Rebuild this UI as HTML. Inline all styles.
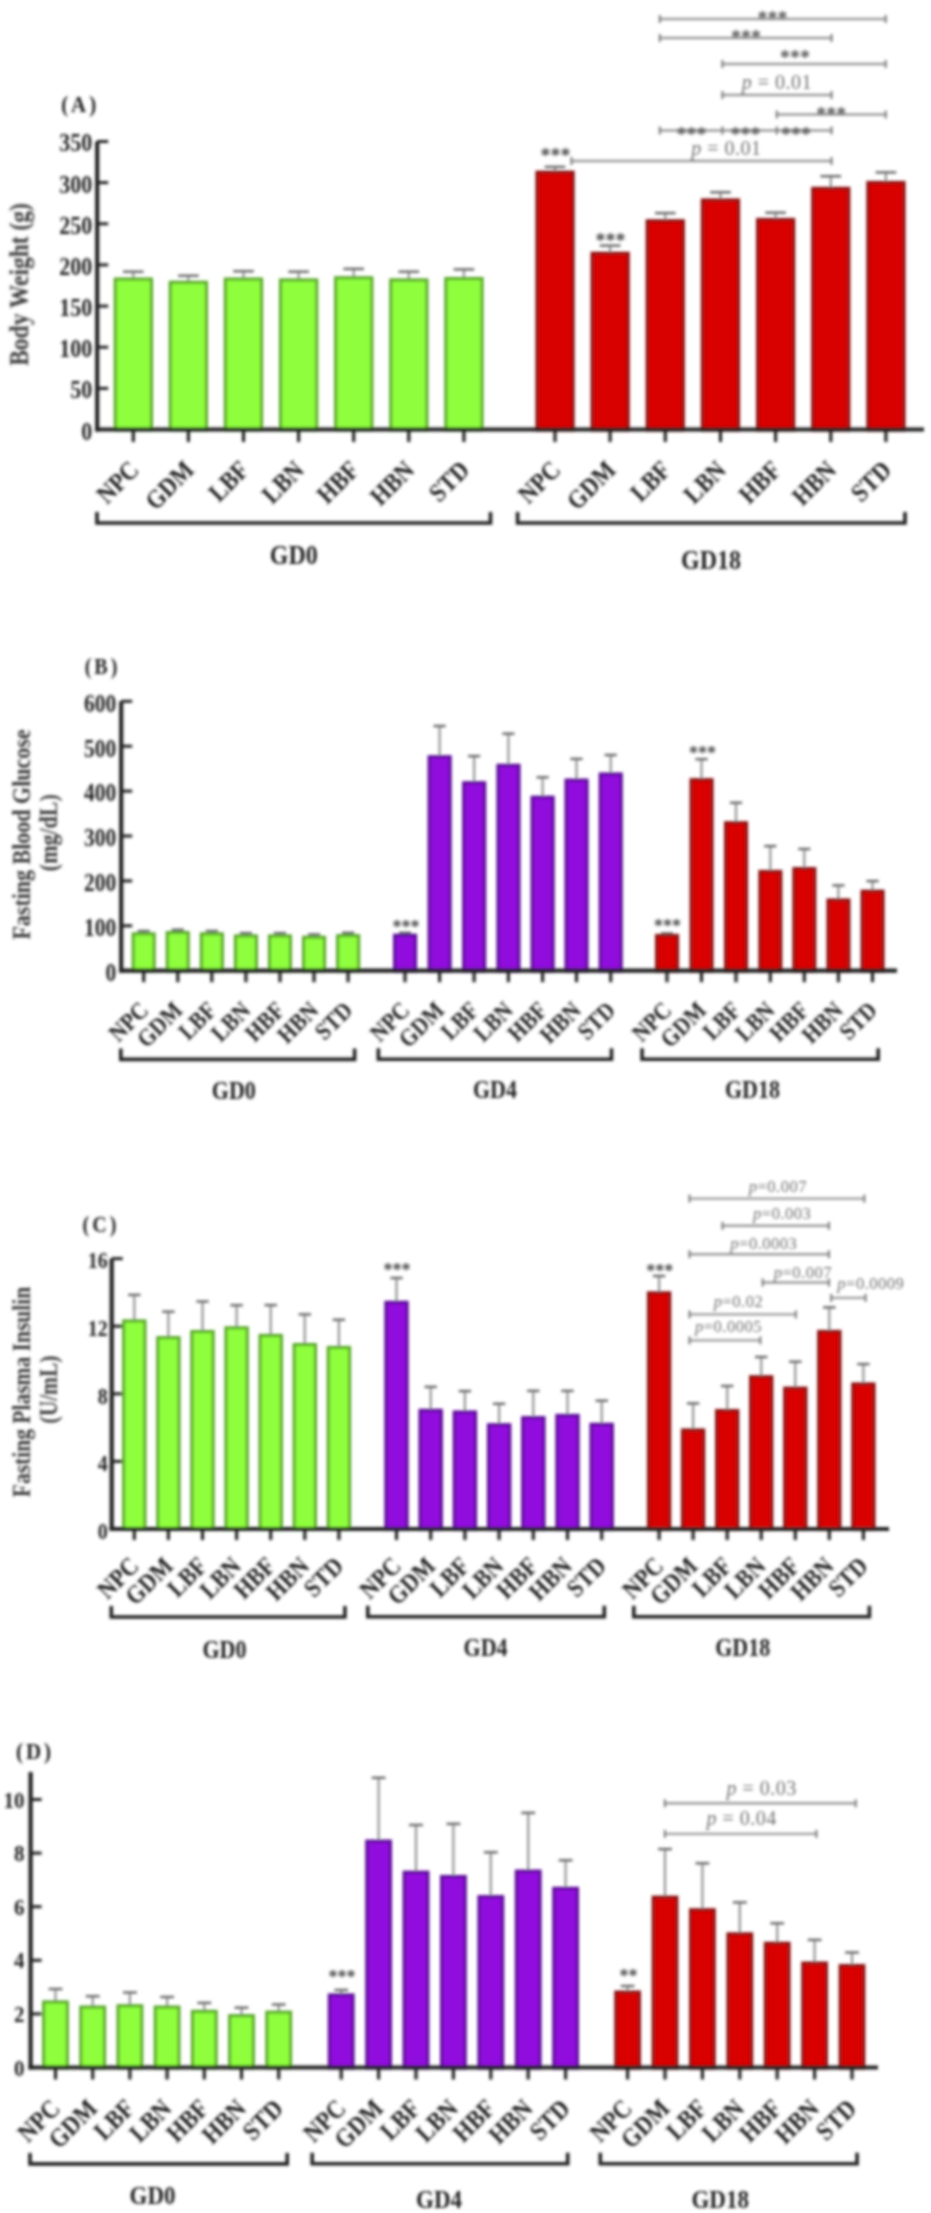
<!DOCTYPE html>
<html><head><meta charset="utf-8"><title>Figure</title>
<style>
html,body{margin:0;padding:0;background:#fff;}
body{width:931px;height:2213px;overflow:hidden;}
svg{display:block;font-family:'Liberation Serif', 'Times New Roman', serif;}
</style></head>
<body>
<svg width="931" height="2213" viewBox="0 0 931 2213">
<defs><filter id="bl" x="-2%" y="-2%" width="104%" height="104%"><feGaussianBlur stdDeviation="1.6"/></filter></defs>
<rect width="931" height="2213" fill="#fff"/>
<g filter="url(#bl)">
<text font-size="21" font-weight="bold" text-anchor="middle" fill="#222222" letter-spacing="3" transform="translate(80.2 111.8) scale(1 1.13)">(A)</text>
<line x1="97.2" y1="429.5" x2="108.2" y2="429.5" stroke="#222222" stroke-width="3.0"/>
<text font-size="22" font-weight="bold" text-anchor="end" fill="#222222" transform="translate(92.2 439.5) scale(1 1.13)">0</text>
<line x1="97.2" y1="388.4" x2="108.2" y2="388.4" stroke="#222222" stroke-width="3.0"/>
<text font-size="22" font-weight="bold" text-anchor="end" fill="#222222" transform="translate(92.2 398.3) scale(1 1.13)">50</text>
<line x1="97.2" y1="347.2" x2="108.2" y2="347.2" stroke="#222222" stroke-width="3.0"/>
<text font-size="22" font-weight="bold" text-anchor="end" fill="#222222" transform="translate(92.2 357.2) scale(1 1.13)">100</text>
<line x1="97.2" y1="306.1" x2="108.2" y2="306.1" stroke="#222222" stroke-width="3.0"/>
<text font-size="22" font-weight="bold" text-anchor="end" fill="#222222" transform="translate(92.2 316.0) scale(1 1.13)">150</text>
<line x1="97.2" y1="264.9" x2="108.2" y2="264.9" stroke="#222222" stroke-width="3.0"/>
<text font-size="22" font-weight="bold" text-anchor="end" fill="#222222" transform="translate(92.2 274.9) scale(1 1.13)">200</text>
<line x1="97.2" y1="223.8" x2="108.2" y2="223.8" stroke="#222222" stroke-width="3.0"/>
<text font-size="22" font-weight="bold" text-anchor="end" fill="#222222" transform="translate(92.2 233.7) scale(1 1.13)">250</text>
<line x1="97.2" y1="182.6" x2="108.2" y2="182.6" stroke="#222222" stroke-width="3.0"/>
<text font-size="22" font-weight="bold" text-anchor="end" fill="#222222" transform="translate(92.2 192.6) scale(1 1.13)">300</text>
<line x1="97.2" y1="141.5" x2="108.2" y2="141.5" stroke="#222222" stroke-width="3.0"/>
<text font-size="22" font-weight="bold" text-anchor="end" fill="#222222" transform="translate(92.2 151.4) scale(1 1.13)">350</text>
<text font-size="23.5" font-weight="bold" text-anchor="middle" fill="#383838" transform="translate(28.0 284.5) rotate(-90) scale(1 1.13)">Body Weight (g)</text>
<line x1="133.3" y1="278.4" x2="133.3" y2="271.7" stroke="#929292" stroke-width="2.2"/>
<line x1="123.0" y1="271.7" x2="143.6" y2="271.7" stroke="#666" stroke-width="2.4"/>
<rect x="115.2" y="279.0" width="36.3" height="151.1" fill="#8efe3c" stroke="#5aa82a" stroke-width="3"/>
<text font-size="23" font-weight="bold" text-anchor="end" fill="#222222" transform="translate(140.3 471.5) rotate(-45) scale(1 1.13)">NPC</text>
<line x1="188.4" y1="281.6" x2="188.4" y2="275.7" stroke="#929292" stroke-width="2.2"/>
<line x1="178.1" y1="275.7" x2="198.7" y2="275.7" stroke="#666" stroke-width="2.4"/>
<rect x="170.2" y="282.2" width="36.3" height="147.9" fill="#8efe3c" stroke="#5aa82a" stroke-width="3"/>
<text font-size="23" font-weight="bold" text-anchor="end" fill="#222222" transform="translate(195.4 471.5) rotate(-45) scale(1 1.13)">GDM</text>
<line x1="243.5" y1="278.4" x2="243.5" y2="271.2" stroke="#929292" stroke-width="2.2"/>
<line x1="233.2" y1="271.2" x2="253.8" y2="271.2" stroke="#666" stroke-width="2.4"/>
<rect x="225.3" y="279.0" width="36.3" height="151.1" fill="#8efe3c" stroke="#5aa82a" stroke-width="3"/>
<text font-size="23" font-weight="bold" text-anchor="end" fill="#222222" transform="translate(250.5 471.5) rotate(-45) scale(1 1.13)">LBF</text>
<line x1="298.6" y1="279.3" x2="298.6" y2="271.7" stroke="#929292" stroke-width="2.2"/>
<line x1="288.3" y1="271.7" x2="308.9" y2="271.7" stroke="#666" stroke-width="2.4"/>
<rect x="280.5" y="279.9" width="36.3" height="150.2" fill="#8efe3c" stroke="#5aa82a" stroke-width="3"/>
<text font-size="23" font-weight="bold" text-anchor="end" fill="#222222" transform="translate(305.6 471.5) rotate(-45) scale(1 1.13)">LBN</text>
<line x1="353.7" y1="277.1" x2="353.7" y2="268.9" stroke="#929292" stroke-width="2.2"/>
<line x1="343.4" y1="268.9" x2="364.0" y2="268.9" stroke="#666" stroke-width="2.4"/>
<rect x="335.6" y="277.7" width="36.3" height="152.4" fill="#8efe3c" stroke="#5aa82a" stroke-width="3"/>
<text font-size="23" font-weight="bold" text-anchor="end" fill="#222222" transform="translate(360.7 471.5) rotate(-45) scale(1 1.13)">HBF</text>
<line x1="408.8" y1="279.3" x2="408.8" y2="271.7" stroke="#929292" stroke-width="2.2"/>
<line x1="398.5" y1="271.7" x2="419.1" y2="271.7" stroke="#666" stroke-width="2.4"/>
<rect x="390.7" y="279.9" width="36.3" height="150.2" fill="#8efe3c" stroke="#5aa82a" stroke-width="3"/>
<text font-size="23" font-weight="bold" text-anchor="end" fill="#222222" transform="translate(415.8 471.5) rotate(-45) scale(1 1.13)">HBN</text>
<line x1="463.9" y1="277.9" x2="463.9" y2="269.4" stroke="#929292" stroke-width="2.2"/>
<line x1="453.6" y1="269.4" x2="474.2" y2="269.4" stroke="#666" stroke-width="2.4"/>
<rect x="445.8" y="278.5" width="36.3" height="151.6" fill="#8efe3c" stroke="#5aa82a" stroke-width="3"/>
<text font-size="23" font-weight="bold" text-anchor="end" fill="#222222" transform="translate(470.9 471.5) rotate(-45) scale(1 1.13)">STD</text>
<path d="M97.0 512.0 V523.0 H490.5 V512.0" fill="none" stroke="#222222" stroke-width="3.6"/>
<text font-size="24" font-weight="bold" text-anchor="middle" fill="#222222" transform="translate(293.8 564.2) scale(1 1.13)">GD0</text>
<line x1="555.0" y1="171.5" x2="555.0" y2="166.9" stroke="#929292" stroke-width="2.2"/>
<line x1="544.7" y1="166.9" x2="565.3" y2="166.9" stroke="#666" stroke-width="2.4"/>
<rect x="536.9" y="172.1" width="36.3" height="258.0" fill="#d90000" stroke="#8c1414" stroke-width="3"/>
<text font-size="23" font-weight="bold" text-anchor="end" fill="#222222" transform="translate(562.0 471.5) rotate(-45) scale(1 1.13)">NPC</text>
<line x1="610.1" y1="252.6" x2="610.1" y2="245.6" stroke="#929292" stroke-width="2.2"/>
<line x1="599.8" y1="245.6" x2="620.5" y2="245.6" stroke="#666" stroke-width="2.4"/>
<rect x="592.0" y="253.2" width="36.3" height="176.9" fill="#d90000" stroke="#8c1414" stroke-width="3"/>
<text font-size="23" font-weight="bold" text-anchor="end" fill="#222222" transform="translate(617.1 471.5) rotate(-45) scale(1 1.13)">GDM</text>
<line x1="665.3" y1="220.1" x2="665.3" y2="213.1" stroke="#929292" stroke-width="2.2"/>
<line x1="655.0" y1="213.1" x2="675.6" y2="213.1" stroke="#666" stroke-width="2.4"/>
<rect x="647.1" y="220.7" width="36.3" height="209.4" fill="#d90000" stroke="#8c1414" stroke-width="3"/>
<text font-size="23" font-weight="bold" text-anchor="end" fill="#222222" transform="translate(672.3 471.5) rotate(-45) scale(1 1.13)">LBF</text>
<line x1="720.5" y1="199.3" x2="720.5" y2="192.3" stroke="#929292" stroke-width="2.2"/>
<line x1="710.1" y1="192.3" x2="730.8" y2="192.3" stroke="#666" stroke-width="2.4"/>
<rect x="702.3" y="199.9" width="36.3" height="230.2" fill="#d90000" stroke="#8c1414" stroke-width="3"/>
<text font-size="23" font-weight="bold" text-anchor="end" fill="#222222" transform="translate(727.5 471.5) rotate(-45) scale(1 1.13)">LBN</text>
<line x1="775.6" y1="218.8" x2="775.6" y2="212.7" stroke="#929292" stroke-width="2.2"/>
<line x1="765.3" y1="212.7" x2="785.9" y2="212.7" stroke="#666" stroke-width="2.4"/>
<rect x="757.5" y="219.4" width="36.3" height="210.7" fill="#d90000" stroke="#8c1414" stroke-width="3"/>
<text font-size="23" font-weight="bold" text-anchor="end" fill="#222222" transform="translate(782.6 471.5) rotate(-45) scale(1 1.13)">HBF</text>
<line x1="830.8" y1="187.7" x2="830.8" y2="176.2" stroke="#929292" stroke-width="2.2"/>
<line x1="820.4" y1="176.2" x2="841.1" y2="176.2" stroke="#666" stroke-width="2.4"/>
<rect x="812.6" y="188.3" width="36.3" height="241.8" fill="#d90000" stroke="#8c1414" stroke-width="3"/>
<text font-size="23" font-weight="bold" text-anchor="end" fill="#222222" transform="translate(837.8 471.5) rotate(-45) scale(1 1.13)">HBN</text>
<line x1="885.9" y1="181.8" x2="885.9" y2="172.4" stroke="#929292" stroke-width="2.2"/>
<line x1="875.6" y1="172.4" x2="896.2" y2="172.4" stroke="#666" stroke-width="2.4"/>
<rect x="867.8" y="182.4" width="36.3" height="247.7" fill="#d90000" stroke="#8c1414" stroke-width="3"/>
<text font-size="23" font-weight="bold" text-anchor="end" fill="#222222" transform="translate(892.9 471.5) rotate(-45) scale(1 1.13)">STD</text>
<path d="M517.6 512.0 V523.0 H905.0 V512.0" fill="none" stroke="#222222" stroke-width="3.6"/>
<text font-size="24" font-weight="bold" text-anchor="middle" fill="#222222" transform="translate(711.0 569.0) scale(1 1.13)">GD18</text>
<line x1="97.2" y1="141.5" x2="97.2" y2="431.6" stroke="#222222" stroke-width="4.2"/>
<line x1="95.1" y1="429.5" x2="924.0" y2="429.5" stroke="#222222" stroke-width="4.2"/>
<line x1="133.3" y1="429.5" x2="133.3" y2="442.0" stroke="#222222" stroke-width="3.2"/>
<line x1="188.4" y1="429.5" x2="188.4" y2="442.0" stroke="#222222" stroke-width="3.2"/>
<line x1="243.5" y1="429.5" x2="243.5" y2="442.0" stroke="#222222" stroke-width="3.2"/>
<line x1="298.6" y1="429.5" x2="298.6" y2="442.0" stroke="#222222" stroke-width="3.2"/>
<line x1="353.7" y1="429.5" x2="353.7" y2="442.0" stroke="#222222" stroke-width="3.2"/>
<line x1="408.8" y1="429.5" x2="408.8" y2="442.0" stroke="#222222" stroke-width="3.2"/>
<line x1="463.9" y1="429.5" x2="463.9" y2="442.0" stroke="#222222" stroke-width="3.2"/>
<line x1="555.0" y1="429.5" x2="555.0" y2="442.0" stroke="#222222" stroke-width="3.2"/>
<line x1="610.1" y1="429.5" x2="610.1" y2="442.0" stroke="#222222" stroke-width="3.2"/>
<line x1="665.3" y1="429.5" x2="665.3" y2="442.0" stroke="#222222" stroke-width="3.2"/>
<line x1="720.5" y1="429.5" x2="720.5" y2="442.0" stroke="#222222" stroke-width="3.2"/>
<line x1="775.6" y1="429.5" x2="775.6" y2="442.0" stroke="#222222" stroke-width="3.2"/>
<line x1="830.8" y1="429.5" x2="830.8" y2="442.0" stroke="#222222" stroke-width="3.2"/>
<line x1="885.9" y1="429.5" x2="885.9" y2="442.0" stroke="#222222" stroke-width="3.2"/>
<text x="555.5" y="161.7" font-size="20" font-weight="bold" text-anchor="middle" fill="#444">***</text>
<text x="610.5" y="246.5" font-size="20" font-weight="bold" text-anchor="middle" fill="#444">***</text>
<line x1="659.8" y1="19.0" x2="885.7" y2="19.0" stroke="#9a9a9a" stroke-width="2.4"/>
<line x1="659.8" y1="15.0" x2="659.8" y2="23.0" stroke="#777" stroke-width="2"/>
<line x1="885.7" y1="15.0" x2="885.7" y2="23.0" stroke="#777" stroke-width="2"/>
<text x="772.6" y="24.5" font-size="20" font-weight="bold" text-anchor="middle" fill="#555">***</text>
<line x1="659.8" y1="38.0" x2="831.5" y2="38.0" stroke="#9a9a9a" stroke-width="2.4"/>
<line x1="659.8" y1="34.0" x2="659.8" y2="42.0" stroke="#777" stroke-width="2"/>
<line x1="831.5" y1="34.0" x2="831.5" y2="42.0" stroke="#777" stroke-width="2"/>
<text x="746.1" y="44.0" font-size="20" font-weight="bold" text-anchor="middle" fill="#555">***</text>
<line x1="722.4" y1="64.0" x2="885.7" y2="64.0" stroke="#9a9a9a" stroke-width="2.4"/>
<line x1="722.4" y1="60.0" x2="722.4" y2="68.0" stroke="#777" stroke-width="2"/>
<line x1="885.7" y1="60.0" x2="885.7" y2="68.0" stroke="#777" stroke-width="2"/>
<text x="795.0" y="64.1" font-size="20" font-weight="bold" text-anchor="middle" fill="#555">***</text>
<line x1="722.4" y1="95.0" x2="831.5" y2="95.0" stroke="#9a9a9a" stroke-width="2.4"/>
<line x1="722.4" y1="91.0" x2="722.4" y2="99.0" stroke="#777" stroke-width="2"/>
<line x1="831.5" y1="91.0" x2="831.5" y2="99.0" stroke="#777" stroke-width="2"/>
<text x="776.8" y="89.0" font-size="20" text-anchor="middle" fill="#707070" letter-spacing="0.5"><tspan font-style="italic">p</tspan> = 0.01</text>
<line x1="776.8" y1="114.5" x2="885.7" y2="114.5" stroke="#9a9a9a" stroke-width="2.4"/>
<line x1="776.8" y1="110.5" x2="776.8" y2="118.5" stroke="#777" stroke-width="2"/>
<line x1="885.7" y1="110.5" x2="885.7" y2="118.5" stroke="#777" stroke-width="2"/>
<text x="831.3" y="120.8" font-size="20" font-weight="bold" text-anchor="middle" fill="#555">***</text>
<line x1="659.8" y1="130.5" x2="831.5" y2="130.5" stroke="#9a9a9a" stroke-width="2.4"/>
<line x1="659.8" y1="126.5" x2="659.8" y2="134.5" stroke="#777" stroke-width="2"/>
<line x1="722.4" y1="126.5" x2="722.4" y2="134.5" stroke="#777" stroke-width="2"/>
<line x1="776.8" y1="126.5" x2="776.8" y2="134.5" stroke="#777" stroke-width="2"/>
<line x1="831.5" y1="126.5" x2="831.5" y2="134.5" stroke="#777" stroke-width="2"/>
<text x="691.5" y="140.5" font-size="20" font-weight="bold" text-anchor="middle" fill="#555">***</text>
<text x="745.5" y="140.5" font-size="20" font-weight="bold" text-anchor="middle" fill="#555">***</text>
<text x="796.0" y="140.5" font-size="20" font-weight="bold" text-anchor="middle" fill="#555">***</text>
<line x1="571.5" y1="161.0" x2="831.5" y2="161.0" stroke="#9a9a9a" stroke-width="2.4"/>
<line x1="571.5" y1="157.0" x2="571.5" y2="165.0" stroke="#777" stroke-width="2"/>
<line x1="831.5" y1="157.0" x2="831.5" y2="165.0" stroke="#777" stroke-width="2"/>
<text x="726.3" y="154.5" font-size="20" text-anchor="middle" fill="#707070" letter-spacing="0.5"><tspan font-style="italic">p</tspan> = 0.01</text>
<text font-size="20" font-weight="bold" text-anchor="middle" fill="#222222" letter-spacing="3" transform="translate(102.5 674.0) scale(1 1.13)">(B)</text>
<line x1="121.2" y1="970.7" x2="132.2" y2="970.7" stroke="#222222" stroke-width="3.0"/>
<text font-size="21.5" font-weight="bold" text-anchor="end" fill="#222222" transform="translate(116.2 981.0) scale(1 1.13)">0</text>
<line x1="121.2" y1="925.8" x2="132.2" y2="925.8" stroke="#222222" stroke-width="3.0"/>
<text font-size="21.5" font-weight="bold" text-anchor="end" fill="#222222" transform="translate(116.2 936.1) scale(1 1.13)">100</text>
<line x1="121.2" y1="880.9" x2="132.2" y2="880.9" stroke="#222222" stroke-width="3.0"/>
<text font-size="21.5" font-weight="bold" text-anchor="end" fill="#222222" transform="translate(116.2 891.2) scale(1 1.13)">200</text>
<line x1="121.2" y1="836.0" x2="132.2" y2="836.0" stroke="#222222" stroke-width="3.0"/>
<text font-size="21.5" font-weight="bold" text-anchor="end" fill="#222222" transform="translate(116.2 846.3) scale(1 1.13)">300</text>
<line x1="121.2" y1="791.1" x2="132.2" y2="791.1" stroke="#222222" stroke-width="3.0"/>
<text font-size="21.5" font-weight="bold" text-anchor="end" fill="#222222" transform="translate(116.2 801.4) scale(1 1.13)">400</text>
<line x1="121.2" y1="746.2" x2="132.2" y2="746.2" stroke="#222222" stroke-width="3.0"/>
<text font-size="21.5" font-weight="bold" text-anchor="end" fill="#222222" transform="translate(116.2 756.5) scale(1 1.13)">500</text>
<line x1="121.2" y1="701.3" x2="132.2" y2="701.3" stroke="#222222" stroke-width="3.0"/>
<text font-size="21.5" font-weight="bold" text-anchor="end" fill="#222222" transform="translate(116.2 711.6) scale(1 1.13)">600</text>
<text font-size="22" font-weight="bold" text-anchor="middle" fill="#383838" transform="translate(29.5 834.5) rotate(-90) scale(1 1.13)">Fasting Blood Glucose</text>
<text font-size="22" font-weight="bold" text-anchor="middle" fill="#383838" transform="translate(57.0 832.7) rotate(-90) scale(1 1.13)">(mg/dL)</text>
<line x1="143.7" y1="933.2" x2="143.7" y2="931.0" stroke="#929292" stroke-width="2.2"/>
<line x1="137.6" y1="931.0" x2="149.8" y2="931.0" stroke="#666" stroke-width="2.4"/>
<rect x="133.1" y="933.8" width="21.1" height="37.5" fill="#8efe3c" stroke="#5aa82a" stroke-width="3"/>
<text font-size="21.5" font-weight="bold" text-anchor="end" fill="#222222" transform="translate(149.7 1011.7) rotate(-45) scale(1 1.13)">NPC</text>
<line x1="177.8" y1="931.9" x2="177.8" y2="929.7" stroke="#929292" stroke-width="2.2"/>
<line x1="171.6" y1="929.7" x2="183.9" y2="929.7" stroke="#666" stroke-width="2.4"/>
<rect x="167.2" y="932.5" width="21.1" height="38.8" fill="#8efe3c" stroke="#5aa82a" stroke-width="3"/>
<text font-size="21.5" font-weight="bold" text-anchor="end" fill="#222222" transform="translate(183.8 1011.7) rotate(-45) scale(1 1.13)">GDM</text>
<line x1="211.8" y1="933.2" x2="211.8" y2="931.0" stroke="#929292" stroke-width="2.2"/>
<line x1="205.7" y1="931.0" x2="218.0" y2="931.0" stroke="#666" stroke-width="2.4"/>
<rect x="201.3" y="933.8" width="21.1" height="37.5" fill="#8efe3c" stroke="#5aa82a" stroke-width="3"/>
<text font-size="21.5" font-weight="bold" text-anchor="end" fill="#222222" transform="translate(217.8 1011.7) rotate(-45) scale(1 1.13)">LBF</text>
<line x1="245.9" y1="935.3" x2="245.9" y2="933.1" stroke="#929292" stroke-width="2.2"/>
<line x1="239.8" y1="933.1" x2="252.0" y2="933.1" stroke="#666" stroke-width="2.4"/>
<rect x="235.4" y="935.9" width="21.1" height="35.4" fill="#8efe3c" stroke="#5aa82a" stroke-width="3"/>
<text font-size="21.5" font-weight="bold" text-anchor="end" fill="#222222" transform="translate(251.9 1011.7) rotate(-45) scale(1 1.13)">LBN</text>
<line x1="280.0" y1="935.3" x2="280.0" y2="933.1" stroke="#929292" stroke-width="2.2"/>
<line x1="273.8" y1="933.1" x2="286.1" y2="933.1" stroke="#666" stroke-width="2.4"/>
<rect x="269.4" y="935.9" width="21.1" height="35.4" fill="#8efe3c" stroke="#5aa82a" stroke-width="3"/>
<text font-size="21.5" font-weight="bold" text-anchor="end" fill="#222222" transform="translate(286.0 1011.7) rotate(-45) scale(1 1.13)">HBF</text>
<line x1="314.0" y1="936.6" x2="314.0" y2="934.4" stroke="#929292" stroke-width="2.2"/>
<line x1="307.9" y1="934.4" x2="320.2" y2="934.4" stroke="#666" stroke-width="2.4"/>
<rect x="303.5" y="937.2" width="21.1" height="34.1" fill="#8efe3c" stroke="#5aa82a" stroke-width="3"/>
<text font-size="21.5" font-weight="bold" text-anchor="end" fill="#222222" transform="translate(320.0 1011.7) rotate(-45) scale(1 1.13)">HBN</text>
<line x1="348.1" y1="935.0" x2="348.1" y2="932.8" stroke="#929292" stroke-width="2.2"/>
<line x1="342.0" y1="932.8" x2="354.3" y2="932.8" stroke="#666" stroke-width="2.4"/>
<rect x="337.6" y="935.6" width="21.1" height="35.7" fill="#8efe3c" stroke="#5aa82a" stroke-width="3"/>
<text font-size="21.5" font-weight="bold" text-anchor="end" fill="#222222" transform="translate(354.1 1011.7) rotate(-45) scale(1 1.13)">STD</text>
<path d="M120.8 1048.4 V1059.4 H354.6 V1048.4" fill="none" stroke="#222222" stroke-width="3.6"/>
<text font-size="22" font-weight="bold" text-anchor="middle" fill="#222222" transform="translate(233.8 1099.1) scale(1 1.13)">GD0</text>
<line x1="405.0" y1="934.6" x2="405.0" y2="932.8" stroke="#929292" stroke-width="2.2"/>
<line x1="398.9" y1="932.8" x2="411.1" y2="932.8" stroke="#666" stroke-width="2.4"/>
<rect x="394.5" y="935.2" width="21.1" height="36.1" fill="#910fdd" stroke="#5c0c98" stroke-width="3"/>
<text font-size="21.5" font-weight="bold" text-anchor="end" fill="#222222" transform="translate(411.0 1011.7) rotate(-45) scale(1 1.13)">NPC</text>
<line x1="439.6" y1="756.1" x2="439.6" y2="726.0" stroke="#929292" stroke-width="2.2"/>
<line x1="433.5" y1="726.0" x2="445.7" y2="726.0" stroke="#666" stroke-width="2.4"/>
<rect x="429.1" y="756.7" width="21.1" height="214.6" fill="#910fdd" stroke="#5c0c98" stroke-width="3"/>
<text font-size="21.5" font-weight="bold" text-anchor="end" fill="#222222" transform="translate(445.6 1011.7) rotate(-45) scale(1 1.13)">GDM</text>
<line x1="474.1" y1="782.1" x2="474.1" y2="756.1" stroke="#929292" stroke-width="2.2"/>
<line x1="468.0" y1="756.1" x2="480.2" y2="756.1" stroke="#666" stroke-width="2.4"/>
<rect x="463.6" y="782.7" width="21.1" height="188.6" fill="#910fdd" stroke="#5c0c98" stroke-width="3"/>
<text font-size="21.5" font-weight="bold" text-anchor="end" fill="#222222" transform="translate(480.1 1011.7) rotate(-45) scale(1 1.13)">LBF</text>
<line x1="508.4" y1="764.7" x2="508.4" y2="733.7" stroke="#929292" stroke-width="2.2"/>
<line x1="502.3" y1="733.7" x2="514.5" y2="733.7" stroke="#666" stroke-width="2.4"/>
<rect x="497.9" y="765.3" width="21.1" height="206.0" fill="#910fdd" stroke="#5c0c98" stroke-width="3"/>
<text font-size="21.5" font-weight="bold" text-anchor="end" fill="#222222" transform="translate(514.4 1011.7) rotate(-45) scale(1 1.13)">LBN</text>
<line x1="542.6" y1="796.6" x2="542.6" y2="777.3" stroke="#929292" stroke-width="2.2"/>
<line x1="536.5" y1="777.3" x2="548.7" y2="777.3" stroke="#666" stroke-width="2.4"/>
<rect x="532.1" y="797.2" width="21.1" height="174.1" fill="#910fdd" stroke="#5c0c98" stroke-width="3"/>
<text font-size="21.5" font-weight="bold" text-anchor="end" fill="#222222" transform="translate(548.6 1011.7) rotate(-45) scale(1 1.13)">HBF</text>
<line x1="576.5" y1="779.5" x2="576.5" y2="758.9" stroke="#929292" stroke-width="2.2"/>
<line x1="570.4" y1="758.9" x2="582.6" y2="758.9" stroke="#666" stroke-width="2.4"/>
<rect x="566.0" y="780.1" width="21.1" height="191.2" fill="#910fdd" stroke="#5c0c98" stroke-width="3"/>
<text font-size="21.5" font-weight="bold" text-anchor="end" fill="#222222" transform="translate(582.5 1011.7) rotate(-45) scale(1 1.13)">HBN</text>
<line x1="610.7" y1="773.4" x2="610.7" y2="755.0" stroke="#929292" stroke-width="2.2"/>
<line x1="604.6" y1="755.0" x2="616.8" y2="755.0" stroke="#666" stroke-width="2.4"/>
<rect x="600.2" y="774.0" width="21.1" height="197.3" fill="#910fdd" stroke="#5c0c98" stroke-width="3"/>
<text font-size="21.5" font-weight="bold" text-anchor="end" fill="#222222" transform="translate(616.7 1011.7) rotate(-45) scale(1 1.13)">STD</text>
<path d="M378.4 1048.2 V1059.2 H611.5 V1048.2" fill="none" stroke="#222222" stroke-width="3.6"/>
<text font-size="22" font-weight="bold" text-anchor="middle" fill="#222222" transform="translate(494.9 1098.1) scale(1 1.13)">GD4</text>
<line x1="667.0" y1="934.8" x2="667.0" y2="933.4" stroke="#929292" stroke-width="2.2"/>
<line x1="660.9" y1="933.4" x2="673.1" y2="933.4" stroke="#666" stroke-width="2.4"/>
<rect x="656.5" y="935.4" width="21.1" height="35.9" fill="#d90000" stroke="#8c1414" stroke-width="3"/>
<text font-size="21.5" font-weight="bold" text-anchor="end" fill="#222222" transform="translate(673.0 1011.7) rotate(-45) scale(1 1.13)">NPC</text>
<line x1="701.5" y1="779.0" x2="701.5" y2="759.2" stroke="#929292" stroke-width="2.2"/>
<line x1="695.4" y1="759.2" x2="707.6" y2="759.2" stroke="#666" stroke-width="2.4"/>
<rect x="691.0" y="779.6" width="21.1" height="191.7" fill="#d90000" stroke="#8c1414" stroke-width="3"/>
<text font-size="21.5" font-weight="bold" text-anchor="end" fill="#222222" transform="translate(707.5 1011.7) rotate(-45) scale(1 1.13)">GDM</text>
<line x1="736.0" y1="822.1" x2="736.0" y2="802.8" stroke="#929292" stroke-width="2.2"/>
<line x1="729.9" y1="802.8" x2="742.1" y2="802.8" stroke="#666" stroke-width="2.4"/>
<rect x="725.5" y="822.7" width="21.1" height="148.6" fill="#d90000" stroke="#8c1414" stroke-width="3"/>
<text font-size="21.5" font-weight="bold" text-anchor="end" fill="#222222" transform="translate(742.0 1011.7) rotate(-45) scale(1 1.13)">LBF</text>
<line x1="770.3" y1="870.8" x2="770.3" y2="846.1" stroke="#929292" stroke-width="2.2"/>
<line x1="764.2" y1="846.1" x2="776.4" y2="846.1" stroke="#666" stroke-width="2.4"/>
<rect x="759.8" y="871.4" width="21.1" height="99.9" fill="#d90000" stroke="#8c1414" stroke-width="3"/>
<text font-size="21.5" font-weight="bold" text-anchor="end" fill="#222222" transform="translate(776.3 1011.7) rotate(-45) scale(1 1.13)">LBN</text>
<line x1="804.3" y1="867.9" x2="804.3" y2="849.0" stroke="#929292" stroke-width="2.2"/>
<line x1="798.2" y1="849.0" x2="810.4" y2="849.0" stroke="#666" stroke-width="2.4"/>
<rect x="793.8" y="868.5" width="21.1" height="102.8" fill="#d90000" stroke="#8c1414" stroke-width="3"/>
<text font-size="21.5" font-weight="bold" text-anchor="end" fill="#222222" transform="translate(810.3 1011.7) rotate(-45) scale(1 1.13)">HBF</text>
<line x1="838.4" y1="899.3" x2="838.4" y2="885.4" stroke="#929292" stroke-width="2.2"/>
<line x1="832.3" y1="885.4" x2="844.5" y2="885.4" stroke="#666" stroke-width="2.4"/>
<rect x="827.9" y="899.9" width="21.1" height="71.4" fill="#d90000" stroke="#8c1414" stroke-width="3"/>
<text font-size="21.5" font-weight="bold" text-anchor="end" fill="#222222" transform="translate(844.4 1011.7) rotate(-45) scale(1 1.13)">HBN</text>
<line x1="872.5" y1="890.5" x2="872.5" y2="881.1" stroke="#929292" stroke-width="2.2"/>
<line x1="866.4" y1="881.1" x2="878.6" y2="881.1" stroke="#666" stroke-width="2.4"/>
<rect x="862.0" y="891.1" width="21.1" height="80.2" fill="#d90000" stroke="#8c1414" stroke-width="3"/>
<text font-size="21.5" font-weight="bold" text-anchor="end" fill="#222222" transform="translate(878.5 1011.7) rotate(-45) scale(1 1.13)">STD</text>
<path d="M642.1 1048.2 V1059.2 H878.2 V1048.2" fill="none" stroke="#222222" stroke-width="3.6"/>
<text font-size="22" font-weight="bold" text-anchor="middle" fill="#222222" transform="translate(752.5 1098.1) scale(1 1.13)">GD18</text>
<line x1="121.2" y1="701.3" x2="121.2" y2="972.8" stroke="#222222" stroke-width="4.2"/>
<line x1="119.1" y1="970.7" x2="897.0" y2="970.7" stroke="#222222" stroke-width="4.2"/>
<line x1="143.7" y1="970.7" x2="143.7" y2="982.2" stroke="#222222" stroke-width="3.2"/>
<line x1="177.8" y1="970.7" x2="177.8" y2="982.2" stroke="#222222" stroke-width="3.2"/>
<line x1="211.8" y1="970.7" x2="211.8" y2="982.2" stroke="#222222" stroke-width="3.2"/>
<line x1="245.9" y1="970.7" x2="245.9" y2="982.2" stroke="#222222" stroke-width="3.2"/>
<line x1="280.0" y1="970.7" x2="280.0" y2="982.2" stroke="#222222" stroke-width="3.2"/>
<line x1="314.0" y1="970.7" x2="314.0" y2="982.2" stroke="#222222" stroke-width="3.2"/>
<line x1="348.1" y1="970.7" x2="348.1" y2="982.2" stroke="#222222" stroke-width="3.2"/>
<line x1="405.0" y1="970.7" x2="405.0" y2="982.2" stroke="#222222" stroke-width="3.2"/>
<line x1="439.6" y1="970.7" x2="439.6" y2="982.2" stroke="#222222" stroke-width="3.2"/>
<line x1="474.1" y1="970.7" x2="474.1" y2="982.2" stroke="#222222" stroke-width="3.2"/>
<line x1="508.4" y1="970.7" x2="508.4" y2="982.2" stroke="#222222" stroke-width="3.2"/>
<line x1="542.6" y1="970.7" x2="542.6" y2="982.2" stroke="#222222" stroke-width="3.2"/>
<line x1="576.5" y1="970.7" x2="576.5" y2="982.2" stroke="#222222" stroke-width="3.2"/>
<line x1="610.7" y1="970.7" x2="610.7" y2="982.2" stroke="#222222" stroke-width="3.2"/>
<line x1="667.0" y1="970.7" x2="667.0" y2="982.2" stroke="#222222" stroke-width="3.2"/>
<line x1="701.5" y1="970.7" x2="701.5" y2="982.2" stroke="#222222" stroke-width="3.2"/>
<line x1="736.0" y1="970.7" x2="736.0" y2="982.2" stroke="#222222" stroke-width="3.2"/>
<line x1="770.3" y1="970.7" x2="770.3" y2="982.2" stroke="#222222" stroke-width="3.2"/>
<line x1="804.3" y1="970.7" x2="804.3" y2="982.2" stroke="#222222" stroke-width="3.2"/>
<line x1="838.4" y1="970.7" x2="838.4" y2="982.2" stroke="#222222" stroke-width="3.2"/>
<line x1="872.5" y1="970.7" x2="872.5" y2="982.2" stroke="#222222" stroke-width="3.2"/>
<text x="406.0" y="932.6" font-size="18" font-weight="bold" text-anchor="middle" fill="#444">***</text>
<text x="667.5" y="932.4" font-size="18" font-weight="bold" text-anchor="middle" fill="#444">***</text>
<text x="702.5" y="759.0" font-size="18" font-weight="bold" text-anchor="middle" fill="#444">***</text>
<text font-size="20" font-weight="bold" text-anchor="middle" fill="#222222" letter-spacing="3" transform="translate(101.0 1231.8) scale(1 1.13)">(C)</text>
<line x1="111.7" y1="1529.0" x2="122.7" y2="1529.0" stroke="#222222" stroke-width="3.0"/>
<text font-size="20" font-weight="bold" text-anchor="end" fill="#222222" transform="translate(107.7 1538.7) scale(1 1.13)">0</text>
<line x1="111.7" y1="1461.4" x2="122.7" y2="1461.4" stroke="#222222" stroke-width="3.0"/>
<text font-size="20" font-weight="bold" text-anchor="end" fill="#222222" transform="translate(107.7 1471.1) scale(1 1.13)">4</text>
<line x1="111.7" y1="1393.8" x2="122.7" y2="1393.8" stroke="#222222" stroke-width="3.0"/>
<text font-size="20" font-weight="bold" text-anchor="end" fill="#222222" transform="translate(107.7 1403.5) scale(1 1.13)">8</text>
<line x1="111.7" y1="1326.2" x2="122.7" y2="1326.2" stroke="#222222" stroke-width="3.0"/>
<text font-size="20" font-weight="bold" text-anchor="end" fill="#222222" transform="translate(107.7 1335.9) scale(1 1.13)">12</text>
<line x1="111.7" y1="1258.6" x2="122.7" y2="1258.6" stroke="#222222" stroke-width="3.0"/>
<text font-size="20" font-weight="bold" text-anchor="end" fill="#222222" transform="translate(107.7 1268.3) scale(1 1.13)">16</text>
<text font-size="21.5" font-weight="bold" text-anchor="middle" fill="#383838" transform="translate(29.5 1392.0) rotate(-90) scale(1 1.13)">Fasting Plasma Insulin</text>
<text font-size="21.5" font-weight="bold" text-anchor="middle" fill="#383838" transform="translate(57.0 1389.5) rotate(-90) scale(1 1.13)">(U/mL)</text>
<line x1="134.3" y1="1320.3" x2="134.3" y2="1294.9" stroke="#929292" stroke-width="2.2"/>
<line x1="128.1" y1="1294.9" x2="140.5" y2="1294.9" stroke="#666" stroke-width="2.4"/>
<rect x="123.6" y="1320.9" width="21.4" height="208.7" fill="#8efe3c" stroke="#5aa82a" stroke-width="3"/>
<text font-size="22.5" font-weight="bold" text-anchor="end" fill="#222222" transform="translate(140.3 1567.5) rotate(-45) scale(1 1.13)">NPC</text>
<line x1="168.4" y1="1337.0" x2="168.4" y2="1311.7" stroke="#929292" stroke-width="2.2"/>
<line x1="162.2" y1="1311.7" x2="174.6" y2="1311.7" stroke="#666" stroke-width="2.4"/>
<rect x="157.7" y="1337.6" width="21.4" height="192.0" fill="#8efe3c" stroke="#5aa82a" stroke-width="3"/>
<text font-size="22.5" font-weight="bold" text-anchor="end" fill="#222222" transform="translate(174.4 1567.5) rotate(-45) scale(1 1.13)">GDM</text>
<line x1="202.5" y1="1330.9" x2="202.5" y2="1301.5" stroke="#929292" stroke-width="2.2"/>
<line x1="196.3" y1="1301.5" x2="208.7" y2="1301.5" stroke="#666" stroke-width="2.4"/>
<rect x="191.8" y="1331.5" width="21.4" height="198.1" fill="#8efe3c" stroke="#5aa82a" stroke-width="3"/>
<text font-size="22.5" font-weight="bold" text-anchor="end" fill="#222222" transform="translate(208.5 1567.5) rotate(-45) scale(1 1.13)">LBF</text>
<line x1="236.6" y1="1327.2" x2="236.6" y2="1305.2" stroke="#929292" stroke-width="2.2"/>
<line x1="230.4" y1="1305.2" x2="242.8" y2="1305.2" stroke="#666" stroke-width="2.4"/>
<rect x="225.9" y="1327.8" width="21.4" height="201.8" fill="#8efe3c" stroke="#5aa82a" stroke-width="3"/>
<text font-size="22.5" font-weight="bold" text-anchor="end" fill="#222222" transform="translate(242.6 1567.5) rotate(-45) scale(1 1.13)">LBN</text>
<line x1="270.7" y1="1334.8" x2="270.7" y2="1305.1" stroke="#929292" stroke-width="2.2"/>
<line x1="264.5" y1="1305.1" x2="276.9" y2="1305.1" stroke="#666" stroke-width="2.4"/>
<rect x="260.0" y="1335.4" width="21.4" height="194.2" fill="#8efe3c" stroke="#5aa82a" stroke-width="3"/>
<text font-size="22.5" font-weight="bold" text-anchor="end" fill="#222222" transform="translate(276.7 1567.5) rotate(-45) scale(1 1.13)">HBF</text>
<line x1="304.8" y1="1343.9" x2="304.8" y2="1314.4" stroke="#929292" stroke-width="2.2"/>
<line x1="298.6" y1="1314.4" x2="311.0" y2="1314.4" stroke="#666" stroke-width="2.4"/>
<rect x="294.1" y="1344.5" width="21.4" height="185.1" fill="#8efe3c" stroke="#5aa82a" stroke-width="3"/>
<text font-size="22.5" font-weight="bold" text-anchor="end" fill="#222222" transform="translate(310.8 1567.5) rotate(-45) scale(1 1.13)">HBN</text>
<line x1="338.9" y1="1346.8" x2="338.9" y2="1319.8" stroke="#929292" stroke-width="2.2"/>
<line x1="332.7" y1="1319.8" x2="345.1" y2="1319.8" stroke="#666" stroke-width="2.4"/>
<rect x="328.2" y="1347.4" width="21.4" height="182.2" fill="#8efe3c" stroke="#5aa82a" stroke-width="3"/>
<text font-size="22.5" font-weight="bold" text-anchor="end" fill="#222222" transform="translate(344.9 1567.5) rotate(-45) scale(1 1.13)">STD</text>
<path d="M111.3 1606.0 V1617.0 H344.9 V1606.0" fill="none" stroke="#222222" stroke-width="3.6"/>
<text font-size="22" font-weight="bold" text-anchor="middle" fill="#222222" transform="translate(224.5 1658.2) scale(1 1.13)">GD0</text>
<line x1="396.5" y1="1301.7" x2="396.5" y2="1278.0" stroke="#929292" stroke-width="2.2"/>
<line x1="390.3" y1="1278.0" x2="402.7" y2="1278.0" stroke="#666" stroke-width="2.4"/>
<rect x="385.8" y="1302.3" width="21.4" height="227.3" fill="#910fdd" stroke="#5c0c98" stroke-width="3"/>
<text font-size="22.5" font-weight="bold" text-anchor="end" fill="#222222" transform="translate(402.5 1567.5) rotate(-45) scale(1 1.13)">NPC</text>
<line x1="430.7" y1="1409.7" x2="430.7" y2="1386.9" stroke="#929292" stroke-width="2.2"/>
<line x1="424.5" y1="1386.9" x2="436.9" y2="1386.9" stroke="#666" stroke-width="2.4"/>
<rect x="420.0" y="1410.3" width="21.4" height="119.3" fill="#910fdd" stroke="#5c0c98" stroke-width="3"/>
<text font-size="22.5" font-weight="bold" text-anchor="end" fill="#222222" transform="translate(436.7 1567.5) rotate(-45) scale(1 1.13)">GDM</text>
<line x1="464.9" y1="1411.4" x2="464.9" y2="1391.1" stroke="#929292" stroke-width="2.2"/>
<line x1="458.7" y1="1391.1" x2="471.1" y2="1391.1" stroke="#666" stroke-width="2.4"/>
<rect x="454.2" y="1412.0" width="21.4" height="117.6" fill="#910fdd" stroke="#5c0c98" stroke-width="3"/>
<text font-size="22.5" font-weight="bold" text-anchor="end" fill="#222222" transform="translate(470.9 1567.5) rotate(-45) scale(1 1.13)">LBF</text>
<line x1="499.1" y1="1424.1" x2="499.1" y2="1403.8" stroke="#929292" stroke-width="2.2"/>
<line x1="492.9" y1="1403.8" x2="505.3" y2="1403.8" stroke="#666" stroke-width="2.4"/>
<rect x="488.4" y="1424.7" width="21.4" height="104.9" fill="#910fdd" stroke="#5c0c98" stroke-width="3"/>
<text font-size="22.5" font-weight="bold" text-anchor="end" fill="#222222" transform="translate(505.1 1567.5) rotate(-45) scale(1 1.13)">LBN</text>
<line x1="533.3" y1="1417.0" x2="533.3" y2="1390.9" stroke="#929292" stroke-width="2.2"/>
<line x1="527.1" y1="1390.9" x2="539.5" y2="1390.9" stroke="#666" stroke-width="2.4"/>
<rect x="522.6" y="1417.6" width="21.4" height="112.0" fill="#910fdd" stroke="#5c0c98" stroke-width="3"/>
<text font-size="22.5" font-weight="bold" text-anchor="end" fill="#222222" transform="translate(539.3 1567.5) rotate(-45) scale(1 1.13)">HBF</text>
<line x1="567.5" y1="1414.8" x2="567.5" y2="1390.9" stroke="#929292" stroke-width="2.2"/>
<line x1="561.3" y1="1390.9" x2="573.7" y2="1390.9" stroke="#666" stroke-width="2.4"/>
<rect x="556.8" y="1415.4" width="21.4" height="114.2" fill="#910fdd" stroke="#5c0c98" stroke-width="3"/>
<text font-size="22.5" font-weight="bold" text-anchor="end" fill="#222222" transform="translate(573.5 1567.5) rotate(-45) scale(1 1.13)">HBN</text>
<line x1="601.7" y1="1423.7" x2="601.7" y2="1400.7" stroke="#929292" stroke-width="2.2"/>
<line x1="595.5" y1="1400.7" x2="607.9" y2="1400.7" stroke="#666" stroke-width="2.4"/>
<rect x="591.0" y="1424.3" width="21.4" height="105.3" fill="#910fdd" stroke="#5c0c98" stroke-width="3"/>
<text font-size="22.5" font-weight="bold" text-anchor="end" fill="#222222" transform="translate(607.7 1567.5) rotate(-45) scale(1 1.13)">STD</text>
<path d="M367.8 1605.8 V1616.8 H604.3 V1605.8" fill="none" stroke="#222222" stroke-width="3.6"/>
<text font-size="22" font-weight="bold" text-anchor="middle" fill="#222222" transform="translate(485.6 1655.5) scale(1 1.13)">GD4</text>
<line x1="659.1" y1="1292.2" x2="659.1" y2="1276.0" stroke="#929292" stroke-width="2.2"/>
<line x1="652.9" y1="1276.0" x2="665.3" y2="1276.0" stroke="#666" stroke-width="2.4"/>
<rect x="648.4" y="1292.8" width="21.4" height="236.8" fill="#d90000" stroke="#8c1414" stroke-width="3"/>
<text font-size="22.5" font-weight="bold" text-anchor="end" fill="#222222" transform="translate(665.1 1567.5) rotate(-45) scale(1 1.13)">NPC</text>
<line x1="693.1" y1="1429.3" x2="693.1" y2="1403.4" stroke="#929292" stroke-width="2.2"/>
<line x1="686.9" y1="1403.4" x2="699.3" y2="1403.4" stroke="#666" stroke-width="2.4"/>
<rect x="682.4" y="1429.9" width="21.4" height="99.7" fill="#d90000" stroke="#8c1414" stroke-width="3"/>
<text font-size="22.5" font-weight="bold" text-anchor="end" fill="#222222" transform="translate(699.1 1567.5) rotate(-45) scale(1 1.13)">GDM</text>
<line x1="727.2" y1="1409.9" x2="727.2" y2="1386.0" stroke="#929292" stroke-width="2.2"/>
<line x1="721.0" y1="1386.0" x2="733.4" y2="1386.0" stroke="#666" stroke-width="2.4"/>
<rect x="716.5" y="1410.5" width="21.4" height="119.1" fill="#d90000" stroke="#8c1414" stroke-width="3"/>
<text font-size="22.5" font-weight="bold" text-anchor="end" fill="#222222" transform="translate(733.2 1567.5) rotate(-45) scale(1 1.13)">LBF</text>
<line x1="761.2" y1="1376.1" x2="761.2" y2="1357.0" stroke="#929292" stroke-width="2.2"/>
<line x1="755.0" y1="1357.0" x2="767.4" y2="1357.0" stroke="#666" stroke-width="2.4"/>
<rect x="750.5" y="1376.7" width="21.4" height="152.9" fill="#d90000" stroke="#8c1414" stroke-width="3"/>
<text font-size="22.5" font-weight="bold" text-anchor="end" fill="#222222" transform="translate(767.2 1567.5) rotate(-45) scale(1 1.13)">LBN</text>
<line x1="795.3" y1="1387.5" x2="795.3" y2="1361.7" stroke="#929292" stroke-width="2.2"/>
<line x1="789.1" y1="1361.7" x2="801.5" y2="1361.7" stroke="#666" stroke-width="2.4"/>
<rect x="784.6" y="1388.1" width="21.4" height="141.5" fill="#d90000" stroke="#8c1414" stroke-width="3"/>
<text font-size="22.5" font-weight="bold" text-anchor="end" fill="#222222" transform="translate(801.3 1567.5) rotate(-45) scale(1 1.13)">HBF</text>
<line x1="829.3" y1="1330.8" x2="829.3" y2="1307.4" stroke="#929292" stroke-width="2.2"/>
<line x1="823.1" y1="1307.4" x2="835.5" y2="1307.4" stroke="#666" stroke-width="2.4"/>
<rect x="818.6" y="1331.4" width="21.4" height="198.2" fill="#d90000" stroke="#8c1414" stroke-width="3"/>
<text font-size="22.5" font-weight="bold" text-anchor="end" fill="#222222" transform="translate(835.3 1567.5) rotate(-45) scale(1 1.13)">HBN</text>
<line x1="863.4" y1="1383.3" x2="863.4" y2="1364.1" stroke="#929292" stroke-width="2.2"/>
<line x1="857.2" y1="1364.1" x2="869.6" y2="1364.1" stroke="#666" stroke-width="2.4"/>
<rect x="852.7" y="1383.9" width="21.4" height="145.7" fill="#d90000" stroke="#8c1414" stroke-width="3"/>
<text font-size="22.5" font-weight="bold" text-anchor="end" fill="#222222" transform="translate(869.4 1567.5) rotate(-45) scale(1 1.13)">STD</text>
<path d="M633.8 1605.8 V1616.8 H869.4 V1605.8" fill="none" stroke="#222222" stroke-width="3.6"/>
<text font-size="22" font-weight="bold" text-anchor="middle" fill="#222222" transform="translate(742.7 1655.5) scale(1 1.13)">GD18</text>
<line x1="111.7" y1="1258.6" x2="111.7" y2="1531.1" stroke="#222222" stroke-width="4.2"/>
<line x1="109.6" y1="1529.0" x2="889.0" y2="1529.0" stroke="#222222" stroke-width="4.2"/>
<line x1="134.3" y1="1529.0" x2="134.3" y2="1540.0" stroke="#222222" stroke-width="3.2"/>
<line x1="168.4" y1="1529.0" x2="168.4" y2="1540.0" stroke="#222222" stroke-width="3.2"/>
<line x1="202.5" y1="1529.0" x2="202.5" y2="1540.0" stroke="#222222" stroke-width="3.2"/>
<line x1="236.6" y1="1529.0" x2="236.6" y2="1540.0" stroke="#222222" stroke-width="3.2"/>
<line x1="270.7" y1="1529.0" x2="270.7" y2="1540.0" stroke="#222222" stroke-width="3.2"/>
<line x1="304.8" y1="1529.0" x2="304.8" y2="1540.0" stroke="#222222" stroke-width="3.2"/>
<line x1="338.9" y1="1529.0" x2="338.9" y2="1540.0" stroke="#222222" stroke-width="3.2"/>
<line x1="396.5" y1="1529.0" x2="396.5" y2="1540.0" stroke="#222222" stroke-width="3.2"/>
<line x1="430.7" y1="1529.0" x2="430.7" y2="1540.0" stroke="#222222" stroke-width="3.2"/>
<line x1="464.9" y1="1529.0" x2="464.9" y2="1540.0" stroke="#222222" stroke-width="3.2"/>
<line x1="499.1" y1="1529.0" x2="499.1" y2="1540.0" stroke="#222222" stroke-width="3.2"/>
<line x1="533.3" y1="1529.0" x2="533.3" y2="1540.0" stroke="#222222" stroke-width="3.2"/>
<line x1="567.5" y1="1529.0" x2="567.5" y2="1540.0" stroke="#222222" stroke-width="3.2"/>
<line x1="601.7" y1="1529.0" x2="601.7" y2="1540.0" stroke="#222222" stroke-width="3.2"/>
<line x1="659.1" y1="1529.0" x2="659.1" y2="1540.0" stroke="#222222" stroke-width="3.2"/>
<line x1="693.1" y1="1529.0" x2="693.1" y2="1540.0" stroke="#222222" stroke-width="3.2"/>
<line x1="727.2" y1="1529.0" x2="727.2" y2="1540.0" stroke="#222222" stroke-width="3.2"/>
<line x1="761.2" y1="1529.0" x2="761.2" y2="1540.0" stroke="#222222" stroke-width="3.2"/>
<line x1="795.3" y1="1529.0" x2="795.3" y2="1540.0" stroke="#222222" stroke-width="3.2"/>
<line x1="829.3" y1="1529.0" x2="829.3" y2="1540.0" stroke="#222222" stroke-width="3.2"/>
<line x1="863.4" y1="1529.0" x2="863.4" y2="1540.0" stroke="#222222" stroke-width="3.2"/>
<text x="397.0" y="1276.4" font-size="18" font-weight="bold" text-anchor="middle" fill="#444">***</text>
<text x="659.7" y="1277.0" font-size="18" font-weight="bold" text-anchor="middle" fill="#444">***</text>
<line x1="689.5" y1="1198.6" x2="864.3" y2="1198.6" stroke="#9a9a9a" stroke-width="2.4"/>
<line x1="689.5" y1="1194.6" x2="689.5" y2="1202.6" stroke="#777" stroke-width="2"/>
<line x1="864.3" y1="1194.6" x2="864.3" y2="1202.6" stroke="#777" stroke-width="2"/>
<text x="777.8" y="1192.0" font-size="16.5" text-anchor="middle" fill="#707070" letter-spacing="0.5"><tspan font-style="italic">p</tspan>=0.007</text>
<line x1="722.5" y1="1225.8" x2="828.9" y2="1225.8" stroke="#9a9a9a" stroke-width="2.4"/>
<line x1="722.5" y1="1221.8" x2="722.5" y2="1229.8" stroke="#777" stroke-width="2"/>
<line x1="828.9" y1="1221.8" x2="828.9" y2="1229.8" stroke="#777" stroke-width="2"/>
<text x="782.2" y="1219.0" font-size="16.5" text-anchor="middle" fill="#707070" letter-spacing="0.5"><tspan font-style="italic">p</tspan>=0.003</text>
<line x1="689.5" y1="1254.2" x2="828.9" y2="1254.2" stroke="#9a9a9a" stroke-width="2.4"/>
<line x1="689.5" y1="1250.2" x2="689.5" y2="1258.2" stroke="#777" stroke-width="2"/>
<line x1="828.9" y1="1250.2" x2="828.9" y2="1258.2" stroke="#777" stroke-width="2"/>
<text x="763.8" y="1248.5" font-size="16.5" text-anchor="middle" fill="#707070" letter-spacing="0.5"><tspan font-style="italic">p</tspan>=0.0003</text>
<line x1="762.7" y1="1282.5" x2="828.9" y2="1282.5" stroke="#9a9a9a" stroke-width="2.4"/>
<line x1="762.7" y1="1278.5" x2="762.7" y2="1286.5" stroke="#777" stroke-width="2"/>
<line x1="828.9" y1="1278.5" x2="828.9" y2="1286.5" stroke="#777" stroke-width="2"/>
<text x="802.8" y="1277.5" font-size="16.5" text-anchor="middle" fill="#707070" letter-spacing="0.5"><tspan font-style="italic">p</tspan>=0.007</text>
<line x1="831.2" y1="1297.9" x2="865.5" y2="1297.9" stroke="#9a9a9a" stroke-width="2.4"/>
<line x1="831.2" y1="1293.9" x2="831.2" y2="1301.9" stroke="#777" stroke-width="2"/>
<line x1="865.5" y1="1293.9" x2="865.5" y2="1301.9" stroke="#777" stroke-width="2"/>
<text x="870.8" y="1289.0" font-size="16.5" text-anchor="middle" fill="#707070" letter-spacing="0.5"><tspan font-style="italic">p</tspan>=0.0009</text>
<line x1="689.5" y1="1314.4" x2="795.8" y2="1314.4" stroke="#9a9a9a" stroke-width="2.4"/>
<line x1="689.5" y1="1310.4" x2="689.5" y2="1318.4" stroke="#777" stroke-width="2"/>
<line x1="795.8" y1="1310.4" x2="795.8" y2="1318.4" stroke="#777" stroke-width="2"/>
<text x="738.5" y="1307.0" font-size="16.5" text-anchor="middle" fill="#707070" letter-spacing="0.5"><tspan font-style="italic">p</tspan>=0.02</text>
<line x1="689.5" y1="1340.4" x2="760.3" y2="1340.4" stroke="#9a9a9a" stroke-width="2.4"/>
<line x1="689.5" y1="1336.4" x2="689.5" y2="1344.4" stroke="#777" stroke-width="2"/>
<line x1="760.3" y1="1336.4" x2="760.3" y2="1344.4" stroke="#777" stroke-width="2"/>
<text x="728.5" y="1332.0" font-size="16.5" text-anchor="middle" fill="#707070" letter-spacing="0.5"><tspan font-style="italic">p</tspan>=0.0005</text>
<text font-size="21" font-weight="bold" text-anchor="middle" fill="#222222" letter-spacing="3" transform="translate(35.0 1758.5) scale(1 1.13)">(D)</text>
<line x1="30.6" y1="2067.5" x2="41.6" y2="2067.5" stroke="#222222" stroke-width="3.0"/>
<text font-size="21" font-weight="bold" text-anchor="end" fill="#222222" transform="translate(24.6 2075.6) scale(1 1.13)">0</text>
<line x1="30.6" y1="2013.9" x2="41.6" y2="2013.9" stroke="#222222" stroke-width="3.0"/>
<text font-size="21" font-weight="bold" text-anchor="end" fill="#222222" transform="translate(24.6 2022.0) scale(1 1.13)">2</text>
<line x1="30.6" y1="1960.3" x2="41.6" y2="1960.3" stroke="#222222" stroke-width="3.0"/>
<text font-size="21" font-weight="bold" text-anchor="end" fill="#222222" transform="translate(24.6 1968.4) scale(1 1.13)">4</text>
<line x1="30.6" y1="1906.7" x2="41.6" y2="1906.7" stroke="#222222" stroke-width="3.0"/>
<text font-size="21" font-weight="bold" text-anchor="end" fill="#222222" transform="translate(24.6 1914.8) scale(1 1.13)">6</text>
<line x1="30.6" y1="1853.1" x2="41.6" y2="1853.1" stroke="#222222" stroke-width="3.0"/>
<text font-size="21" font-weight="bold" text-anchor="end" fill="#222222" transform="translate(24.6 1861.2) scale(1 1.13)">8</text>
<line x1="30.6" y1="1799.5" x2="41.6" y2="1799.5" stroke="#222222" stroke-width="3.0"/>
<text font-size="21" font-weight="bold" text-anchor="end" fill="#222222" transform="translate(24.6 1807.6) scale(1 1.13)">10</text>
<line x1="55.5" y1="2001.3" x2="55.5" y2="1989.0" stroke="#929292" stroke-width="2.2"/>
<line x1="48.6" y1="1989.0" x2="62.4" y2="1989.0" stroke="#666" stroke-width="2.4"/>
<rect x="43.6" y="2001.9" width="23.8" height="66.2" fill="#8efe3c" stroke="#5aa82a" stroke-width="3"/>
<text font-size="23" font-weight="bold" text-anchor="end" fill="#222222" transform="translate(61.5 2110.0) rotate(-45) scale(1 1.13)">NPC</text>
<line x1="92.7" y1="2006.4" x2="92.7" y2="1996.2" stroke="#929292" stroke-width="2.2"/>
<line x1="85.8" y1="1996.2" x2="99.6" y2="1996.2" stroke="#666" stroke-width="2.4"/>
<rect x="80.8" y="2007.0" width="23.8" height="61.1" fill="#8efe3c" stroke="#5aa82a" stroke-width="3"/>
<text font-size="23" font-weight="bold" text-anchor="end" fill="#222222" transform="translate(98.7 2110.0) rotate(-45) scale(1 1.13)">GDM</text>
<line x1="129.9" y1="2005.1" x2="129.9" y2="1992.5" stroke="#929292" stroke-width="2.2"/>
<line x1="123.0" y1="1992.5" x2="136.8" y2="1992.5" stroke="#666" stroke-width="2.4"/>
<rect x="118.0" y="2005.7" width="23.8" height="62.4" fill="#8efe3c" stroke="#5aa82a" stroke-width="3"/>
<text font-size="23" font-weight="bold" text-anchor="end" fill="#222222" transform="translate(135.9 2110.0) rotate(-45) scale(1 1.13)">LBF</text>
<line x1="167.1" y1="2006.4" x2="167.1" y2="1997.0" stroke="#929292" stroke-width="2.2"/>
<line x1="160.2" y1="1997.0" x2="174.0" y2="1997.0" stroke="#666" stroke-width="2.4"/>
<rect x="155.2" y="2007.0" width="23.8" height="61.1" fill="#8efe3c" stroke="#5aa82a" stroke-width="3"/>
<text font-size="23" font-weight="bold" text-anchor="end" fill="#222222" transform="translate(173.1 2110.0) rotate(-45) scale(1 1.13)">LBN</text>
<line x1="204.3" y1="2010.7" x2="204.3" y2="2002.9" stroke="#929292" stroke-width="2.2"/>
<line x1="197.4" y1="2002.9" x2="211.2" y2="2002.9" stroke="#666" stroke-width="2.4"/>
<rect x="192.4" y="2011.3" width="23.8" height="56.8" fill="#8efe3c" stroke="#5aa82a" stroke-width="3"/>
<text font-size="23" font-weight="bold" text-anchor="end" fill="#222222" transform="translate(210.3 2110.0) rotate(-45) scale(1 1.13)">HBF</text>
<line x1="241.5" y1="2015.0" x2="241.5" y2="2007.7" stroke="#929292" stroke-width="2.2"/>
<line x1="234.6" y1="2007.7" x2="248.4" y2="2007.7" stroke="#666" stroke-width="2.4"/>
<rect x="229.6" y="2015.6" width="23.8" height="52.5" fill="#8efe3c" stroke="#5aa82a" stroke-width="3"/>
<text font-size="23" font-weight="bold" text-anchor="end" fill="#222222" transform="translate(247.5 2110.0) rotate(-45) scale(1 1.13)">HBN</text>
<line x1="278.7" y1="2011.5" x2="278.7" y2="2004.5" stroke="#929292" stroke-width="2.2"/>
<line x1="271.8" y1="2004.5" x2="285.6" y2="2004.5" stroke="#666" stroke-width="2.4"/>
<rect x="266.8" y="2012.1" width="23.8" height="56.0" fill="#8efe3c" stroke="#5aa82a" stroke-width="3"/>
<text font-size="23" font-weight="bold" text-anchor="end" fill="#222222" transform="translate(284.7 2110.0) rotate(-45) scale(1 1.13)">STD</text>
<path d="M30.0 2152.9 V2163.9 H287.2 V2152.9" fill="none" stroke="#222222" stroke-width="3.6"/>
<text font-size="23" font-weight="bold" text-anchor="middle" fill="#222222" transform="translate(152.6 2203.9) scale(1 1.13)">GD0</text>
<line x1="341.2" y1="1994.3" x2="341.2" y2="1990.0" stroke="#929292" stroke-width="2.2"/>
<line x1="334.3" y1="1990.0" x2="348.1" y2="1990.0" stroke="#666" stroke-width="2.4"/>
<rect x="329.3" y="1994.9" width="23.8" height="73.2" fill="#910fdd" stroke="#5c0c98" stroke-width="3"/>
<text font-size="23" font-weight="bold" text-anchor="end" fill="#222222" transform="translate(347.2 2110.0) rotate(-45) scale(1 1.13)">NPC</text>
<line x1="378.6" y1="1840.5" x2="378.6" y2="1777.8" stroke="#929292" stroke-width="2.2"/>
<line x1="371.7" y1="1777.8" x2="385.5" y2="1777.8" stroke="#666" stroke-width="2.4"/>
<rect x="366.7" y="1841.1" width="23.8" height="227.0" fill="#910fdd" stroke="#5c0c98" stroke-width="3"/>
<text font-size="23" font-weight="bold" text-anchor="end" fill="#222222" transform="translate(384.6 2110.0) rotate(-45) scale(1 1.13)">GDM</text>
<line x1="416.0" y1="1871.6" x2="416.0" y2="1825.0" stroke="#929292" stroke-width="2.2"/>
<line x1="409.1" y1="1825.0" x2="422.9" y2="1825.0" stroke="#666" stroke-width="2.4"/>
<rect x="404.1" y="1872.2" width="23.8" height="195.9" fill="#910fdd" stroke="#5c0c98" stroke-width="3"/>
<text font-size="23" font-weight="bold" text-anchor="end" fill="#222222" transform="translate(422.0 2110.0) rotate(-45) scale(1 1.13)">LBF</text>
<line x1="453.4" y1="1875.9" x2="453.4" y2="1823.9" stroke="#929292" stroke-width="2.2"/>
<line x1="446.5" y1="1823.9" x2="460.3" y2="1823.9" stroke="#666" stroke-width="2.4"/>
<rect x="441.5" y="1876.5" width="23.8" height="191.6" fill="#910fdd" stroke="#5c0c98" stroke-width="3"/>
<text font-size="23" font-weight="bold" text-anchor="end" fill="#222222" transform="translate(459.4 2110.0) rotate(-45) scale(1 1.13)">LBN</text>
<line x1="490.8" y1="1896.0" x2="490.8" y2="1852.3" stroke="#929292" stroke-width="2.2"/>
<line x1="483.9" y1="1852.3" x2="497.7" y2="1852.3" stroke="#666" stroke-width="2.4"/>
<rect x="478.9" y="1896.6" width="23.8" height="171.5" fill="#910fdd" stroke="#5c0c98" stroke-width="3"/>
<text font-size="23" font-weight="bold" text-anchor="end" fill="#222222" transform="translate(496.8 2110.0) rotate(-45) scale(1 1.13)">HBF</text>
<line x1="528.2" y1="1870.5" x2="528.2" y2="1812.9" stroke="#929292" stroke-width="2.2"/>
<line x1="521.3" y1="1812.9" x2="535.1" y2="1812.9" stroke="#666" stroke-width="2.4"/>
<rect x="516.3" y="1871.1" width="23.8" height="197.0" fill="#910fdd" stroke="#5c0c98" stroke-width="3"/>
<text font-size="23" font-weight="bold" text-anchor="end" fill="#222222" transform="translate(534.2 2110.0) rotate(-45) scale(1 1.13)">HBN</text>
<line x1="565.6" y1="1887.7" x2="565.6" y2="1860.3" stroke="#929292" stroke-width="2.2"/>
<line x1="558.7" y1="1860.3" x2="572.5" y2="1860.3" stroke="#666" stroke-width="2.4"/>
<rect x="553.7" y="1888.3" width="23.8" height="179.8" fill="#910fdd" stroke="#5c0c98" stroke-width="3"/>
<text font-size="23" font-weight="bold" text-anchor="end" fill="#222222" transform="translate(571.6 2110.0) rotate(-45) scale(1 1.13)">STD</text>
<path d="M312.2 2152.7 V2163.7 H567.7 V2152.7" fill="none" stroke="#222222" stroke-width="3.6"/>
<text font-size="23" font-weight="bold" text-anchor="middle" fill="#222222" transform="translate(439.0 2207.5) scale(1 1.13)">GD4</text>
<line x1="627.6" y1="1991.4" x2="627.6" y2="1986.0" stroke="#929292" stroke-width="2.2"/>
<line x1="620.7" y1="1986.0" x2="634.5" y2="1986.0" stroke="#666" stroke-width="2.4"/>
<rect x="615.7" y="1992.0" width="23.8" height="76.1" fill="#d90000" stroke="#8c1414" stroke-width="3"/>
<text font-size="23" font-weight="bold" text-anchor="end" fill="#222222" transform="translate(633.6 2110.0) rotate(-45) scale(1 1.13)">NPC</text>
<line x1="665.0" y1="1896.5" x2="665.0" y2="1849.1" stroke="#929292" stroke-width="2.2"/>
<line x1="658.1" y1="1849.1" x2="671.9" y2="1849.1" stroke="#666" stroke-width="2.4"/>
<rect x="653.1" y="1897.1" width="23.8" height="171.0" fill="#d90000" stroke="#8c1414" stroke-width="3"/>
<text font-size="23" font-weight="bold" text-anchor="end" fill="#222222" transform="translate(671.0 2110.0) rotate(-45) scale(1 1.13)">GDM</text>
<line x1="702.4" y1="1909.1" x2="702.4" y2="1863.3" stroke="#929292" stroke-width="2.2"/>
<line x1="695.5" y1="1863.3" x2="709.3" y2="1863.3" stroke="#666" stroke-width="2.4"/>
<rect x="690.5" y="1909.7" width="23.8" height="158.4" fill="#d90000" stroke="#8c1414" stroke-width="3"/>
<text font-size="23" font-weight="bold" text-anchor="end" fill="#222222" transform="translate(708.4 2110.0) rotate(-45) scale(1 1.13)">LBF</text>
<line x1="739.8" y1="1933.2" x2="739.8" y2="1902.4" stroke="#929292" stroke-width="2.2"/>
<line x1="732.9" y1="1902.4" x2="746.7" y2="1902.4" stroke="#666" stroke-width="2.4"/>
<rect x="727.9" y="1933.8" width="23.8" height="134.3" fill="#d90000" stroke="#8c1414" stroke-width="3"/>
<text font-size="23" font-weight="bold" text-anchor="end" fill="#222222" transform="translate(745.8 2110.0) rotate(-45) scale(1 1.13)">LBN</text>
<line x1="777.2" y1="1942.6" x2="777.2" y2="1923.3" stroke="#929292" stroke-width="2.2"/>
<line x1="770.3" y1="1923.3" x2="784.1" y2="1923.3" stroke="#666" stroke-width="2.4"/>
<rect x="765.3" y="1943.2" width="23.8" height="124.9" fill="#d90000" stroke="#8c1414" stroke-width="3"/>
<text font-size="23" font-weight="bold" text-anchor="end" fill="#222222" transform="translate(783.2 2110.0) rotate(-45) scale(1 1.13)">HBF</text>
<line x1="814.6" y1="1962.4" x2="814.6" y2="1939.9" stroke="#929292" stroke-width="2.2"/>
<line x1="807.7" y1="1939.9" x2="821.5" y2="1939.9" stroke="#666" stroke-width="2.4"/>
<rect x="802.7" y="1963.0" width="23.8" height="105.1" fill="#d90000" stroke="#8c1414" stroke-width="3"/>
<text font-size="23" font-weight="bold" text-anchor="end" fill="#222222" transform="translate(820.6 2110.0) rotate(-45) scale(1 1.13)">HBN</text>
<line x1="852.0" y1="1964.9" x2="852.0" y2="1952.5" stroke="#929292" stroke-width="2.2"/>
<line x1="845.1" y1="1952.5" x2="858.9" y2="1952.5" stroke="#666" stroke-width="2.4"/>
<rect x="840.1" y="1965.5" width="23.8" height="102.6" fill="#d90000" stroke="#8c1414" stroke-width="3"/>
<text font-size="23" font-weight="bold" text-anchor="end" fill="#222222" transform="translate(858.0 2110.0) rotate(-45) scale(1 1.13)">STD</text>
<path d="M600.3 2152.7 V2163.7 H857.1 V2152.7" fill="none" stroke="#222222" stroke-width="3.6"/>
<text font-size="23" font-weight="bold" text-anchor="middle" fill="#222222" transform="translate(720.2 2207.5) scale(1 1.13)">GD18</text>
<line x1="30.6" y1="1771.9" x2="30.6" y2="2069.6" stroke="#222222" stroke-width="4.2"/>
<line x1="28.5" y1="2067.5" x2="878.0" y2="2067.5" stroke="#222222" stroke-width="4.2"/>
<line x1="55.5" y1="2067.5" x2="55.5" y2="2079.5" stroke="#222222" stroke-width="3.2"/>
<line x1="92.7" y1="2067.5" x2="92.7" y2="2079.5" stroke="#222222" stroke-width="3.2"/>
<line x1="129.9" y1="2067.5" x2="129.9" y2="2079.5" stroke="#222222" stroke-width="3.2"/>
<line x1="167.1" y1="2067.5" x2="167.1" y2="2079.5" stroke="#222222" stroke-width="3.2"/>
<line x1="204.3" y1="2067.5" x2="204.3" y2="2079.5" stroke="#222222" stroke-width="3.2"/>
<line x1="241.5" y1="2067.5" x2="241.5" y2="2079.5" stroke="#222222" stroke-width="3.2"/>
<line x1="278.7" y1="2067.5" x2="278.7" y2="2079.5" stroke="#222222" stroke-width="3.2"/>
<line x1="341.2" y1="2067.5" x2="341.2" y2="2079.5" stroke="#222222" stroke-width="3.2"/>
<line x1="378.6" y1="2067.5" x2="378.6" y2="2079.5" stroke="#222222" stroke-width="3.2"/>
<line x1="416.0" y1="2067.5" x2="416.0" y2="2079.5" stroke="#222222" stroke-width="3.2"/>
<line x1="453.4" y1="2067.5" x2="453.4" y2="2079.5" stroke="#222222" stroke-width="3.2"/>
<line x1="490.8" y1="2067.5" x2="490.8" y2="2079.5" stroke="#222222" stroke-width="3.2"/>
<line x1="528.2" y1="2067.5" x2="528.2" y2="2079.5" stroke="#222222" stroke-width="3.2"/>
<line x1="565.6" y1="2067.5" x2="565.6" y2="2079.5" stroke="#222222" stroke-width="3.2"/>
<line x1="627.6" y1="2067.5" x2="627.6" y2="2079.5" stroke="#222222" stroke-width="3.2"/>
<line x1="665.0" y1="2067.5" x2="665.0" y2="2079.5" stroke="#222222" stroke-width="3.2"/>
<line x1="702.4" y1="2067.5" x2="702.4" y2="2079.5" stroke="#222222" stroke-width="3.2"/>
<line x1="739.8" y1="2067.5" x2="739.8" y2="2079.5" stroke="#222222" stroke-width="3.2"/>
<line x1="777.2" y1="2067.5" x2="777.2" y2="2079.5" stroke="#222222" stroke-width="3.2"/>
<line x1="814.6" y1="2067.5" x2="814.6" y2="2079.5" stroke="#222222" stroke-width="3.2"/>
<line x1="852.0" y1="2067.5" x2="852.0" y2="2079.5" stroke="#222222" stroke-width="3.2"/>
<text x="342.0" y="1983.4" font-size="18" font-weight="bold" text-anchor="middle" fill="#444">***</text>
<text x="628.6" y="1981.5" font-size="18" font-weight="bold" text-anchor="middle" fill="#444">**</text>
<line x1="664.9" y1="1803.3" x2="855.7" y2="1803.3" stroke="#9a9a9a" stroke-width="2.4"/>
<line x1="664.9" y1="1799.3" x2="664.9" y2="1807.3" stroke="#777" stroke-width="2"/>
<line x1="855.7" y1="1799.3" x2="855.7" y2="1807.3" stroke="#777" stroke-width="2"/>
<text x="761.6" y="1795.0" font-size="20" text-anchor="middle" fill="#707070" letter-spacing="0.5"><tspan font-style="italic">p</tspan> = 0.03</text>
<line x1="664.9" y1="1833.9" x2="816.4" y2="1833.9" stroke="#9a9a9a" stroke-width="2.4"/>
<line x1="664.9" y1="1829.9" x2="664.9" y2="1837.9" stroke="#777" stroke-width="2"/>
<line x1="816.4" y1="1829.9" x2="816.4" y2="1837.9" stroke="#777" stroke-width="2"/>
<text x="741.7" y="1824.5" font-size="20" text-anchor="middle" fill="#707070" letter-spacing="0.5"><tspan font-style="italic">p</tspan> = 0.04</text>
</g>
</svg>
</body></html>
